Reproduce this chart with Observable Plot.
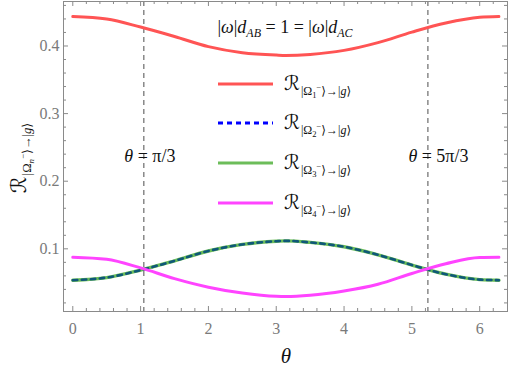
<!DOCTYPE html>
<html><head><meta charset="utf-8">
<script src="https://cdn.jsdelivr.net/npm/d3@7"></script>
<script src="https://cdn.jsdelivr.net/npm/@observablehq/plot@0.6"></script>
<style>body{margin:0;background:#fff} svg{display:block}</style>
</head><body><div id="chart"></div>
<script>
// θ sample positions and values
const theta = [0, 0.5, 1.0, 1.5, 2.0, 2.5, 3.0, 3.1416, 3.5, 4.0, 4.5, 5.0, 5.5, 6.0, 6.2832];
const r1 = [0.4436, 0.4400, 0.4280, 0.4140, 0.3990, 0.3900, 0.3865, 0.3860, 0.3875, 0.3935, 0.4050, 0.4205, 0.4340, 0.4425, 0.4436];
const r2 = [0.0536, 0.0575, 0.0685, 0.0822, 0.0968, 0.1065, 0.1112, 0.1118, 0.1095, 0.1030, 0.0912, 0.0760, 0.0625, 0.0545, 0.0536];
const r3 = [0.0536, 0.0575, 0.0685, 0.0822, 0.0968, 0.1065, 0.1112, 0.1118, 0.1095, 0.1030, 0.0912, 0.0760, 0.0625, 0.0545, 0.0536];
const r4 = [0.0876, 0.0845, 0.0718, 0.0560, 0.0433, 0.0346, 0.0297, 0.0294, 0.0312, 0.0375, 0.0475, 0.0635, 0.0780, 0.0873, 0.0876];
const markers = [1.0472, 5.2360];
const markerLabels = [["θ", " = π/3"], ["θ", " = 5π/3"]];
const xMajor = [0, 1, 2, 3, 4, 5, 6];
const xMinor = d3.range(0.2, 6.3, 0.2).filter(v => Math.abs(v - Math.round(v)) > 1e-6);
const yMajor = [0.1, 0.2, 0.3, 0.4];
const yMinor = d3.range(0.02, 0.47, 0.02).filter(v => Math.abs(v * 10 - Math.round(v * 10)) > 1e-6);
const seriesNames = ["1", "2", "3", "4"];

const W = 510, H = 374, mL = 63, mR = 3, mT = 1, mB = 63;
const fw = W - mL - mR, fh = H - mT - mB;
const gray = "#8a8a8a";
const colRed = "#ff5454", colGreen = "#6cbd5a", colBlue = "#0000ff", colTeal = "#0f5878", colMag = "#ff44ff";
const serif = "'Liberation Serif', 'Times New Roman', Times, 'DejaVu Serif', serif";

const rows = theta.map((t, i) => ({t, r1: r1[i], r2: r2[i], r3: r3[i], r4: r4[i]}));

const plot = Plot.plot({
  width: W, height: H, marginLeft: mL, marginRight: mR, marginTop: mT, marginBottom: mB,
  style: {fontFamily: serif, background: "white"},
  x: {domain: [-0.137, 6.41]},
  y: {domain: [0.0073, 0.4658]},
  marks: [
    Plot.ruleX(markers, {x: d => d, stroke: "#777", strokeWidth: 1.3, strokeDasharray: "5,4"}),
    Plot.line(rows, {x: "t", y: "r1", stroke: colRed, strokeWidth: 3, curve: "monotone-x"}),
    Plot.line(rows, {x: "t", y: "r3", stroke: colGreen, strokeWidth: 3.4, curve: "monotone-x"}),
    Plot.line(rows, {x: "t", y: "r2", stroke: colTeal, strokeWidth: 2.6, strokeDasharray: "4.5,4.5", curve: "monotone-x"}),
    Plot.line(rows, {x: "t", y: "r4", stroke: colMag, strokeWidth: 3, curve: "monotone-x"}),
    Plot.frame({stroke: gray}),
    Plot.tickX(xMajor, {x: d => d, stroke: gray, insetTop: fh - 5}),
    Plot.tickX(xMajor, {x: d => d, stroke: gray, insetBottom: fh - 5}),
    Plot.tickX(xMinor, {x: d => d, stroke: gray, insetTop: fh - 3}),
    Plot.tickX(xMinor, {x: d => d, stroke: gray, insetBottom: fh - 3}),
    Plot.tickY(yMajor, {y: d => d, stroke: gray, insetRight: fw - 5}),
    Plot.tickY(yMajor, {y: d => d, stroke: gray, insetLeft: fw - 5}),
    Plot.tickY(yMinor, {y: d => d, stroke: gray, insetRight: fw - 3}),
    Plot.tickY(yMinor, {y: d => d, stroke: gray, insetLeft: fw - 3}),
    Plot.axisX(xMajor, {tickSize: 0, tickPadding: 11, fontSize: 16, fill: "#7a7a7a", label: null}),
    Plot.axisY(yMajor, {tickSize: 0, tickPadding: 4, fontSize: 16, fill: "#7a7a7a", label: null, tickFormat: d => d.toFixed(1)})
  ]
});

document.getElementById("chart").appendChild(plot);
const svg = d3.select(plot);
const sx = plot.scale("x");

function txt(x, y, anchor) {
  return svg.append("text").attr("x", x).attr("y", y).attr("text-anchor", anchor)
    .style("font-family", serif).attr("fill", "#111");
}

// marker annotations
markers.forEach((m, i) => {
  const t = txt(sx.apply(m) - 19, 162, "start").style("font-size", "18px");
  t.append("tspan").attr("font-style", "italic").text(markerLabels[i][0]);
  t.append("tspan").text(markerLabels[i][1]);
});

// top annotation |ω|d_AB = 1 = |ω|d_AC
{
  const t = txt(285, 33, "middle").style("font-size", "18px");
  t.append("tspan").text("|");
  t.append("tspan").attr("font-style", "italic").text("ω");
  t.append("tspan").text("|");
  t.append("tspan").attr("font-style", "italic").text("d");
  t.append("tspan").attr("font-style", "italic").attr("font-size", "12px").attr("dy", 4).text("AB");
  t.append("tspan").attr("dy", -4).text(" = 1 = |");
  t.append("tspan").attr("font-style", "italic").text("ω");
  t.append("tspan").text("|");
  t.append("tspan").attr("font-style", "italic").text("d");
  t.append("tspan").attr("font-style", "italic").attr("font-size", "12px").attr("dy", 4).text("AC");
}

// R_{|Ω_n^-⟩→|g⟩} builder
function rLabel(sel, sub, s) {
  sel.append("tspan").attr("font-size", (20 * s) + "px").style("font-family", "'DejaVu Serif', 'DejaVu Sans', serif").attr("font-style", "italic").text("ℛ");
  sel.append("tspan").attr("font-size", (12 * s) + "px").attr("dx", 1 * s).attr("dy", 5 * s).text("|Ω");
  sel.append("tspan").attr("font-size", (8.5 * s) + "px").attr("font-style", sub === "n" ? "italic" : "normal").attr("dy", 2.5 * s).text(sub);
  sel.append("tspan").attr("font-size", (8.5 * s) + "px").attr("dy", -7.5 * s).text("−");
  sel.append("tspan").attr("font-size", (12 * s) + "px").attr("dy", 5 * s).text("⟩→|");
  sel.append("tspan").attr("font-size", (12 * s) + "px").attr("font-style", "italic").text("g");
  sel.append("tspan").attr("font-size", (12 * s) + "px").text("⟩");
}

// legend
const legendColors = [colRed, colBlue, colGreen, colMag];
const legendY = [84, 123, 163, 203];
legendColors.forEach((c, i) => {
  svg.append("line").attr("x1", 218).attr("x2", 273).attr("y1", legendY[i]).attr("y2", legendY[i])
    .attr("stroke", c).attr("stroke-width", 3).attr("stroke-dasharray", i === 1 ? "5,4" : null);
  const t = txt(284, legendY[i] + 6, "start");
  rLabel(t, seriesNames[i], 1);
});

// y axis label
{
  const t = svg.append("text").attr("transform", "translate(26,158) rotate(-90)").attr("text-anchor", "middle")
    .style("font-family", serif).attr("fill", "#111");
  rLabel(t, "n", 1.05);
}
// x axis label
txt(286, 363, "middle").style("font-size", "21px").style("font-style", "italic").text("θ");
</script>
</body></html>
